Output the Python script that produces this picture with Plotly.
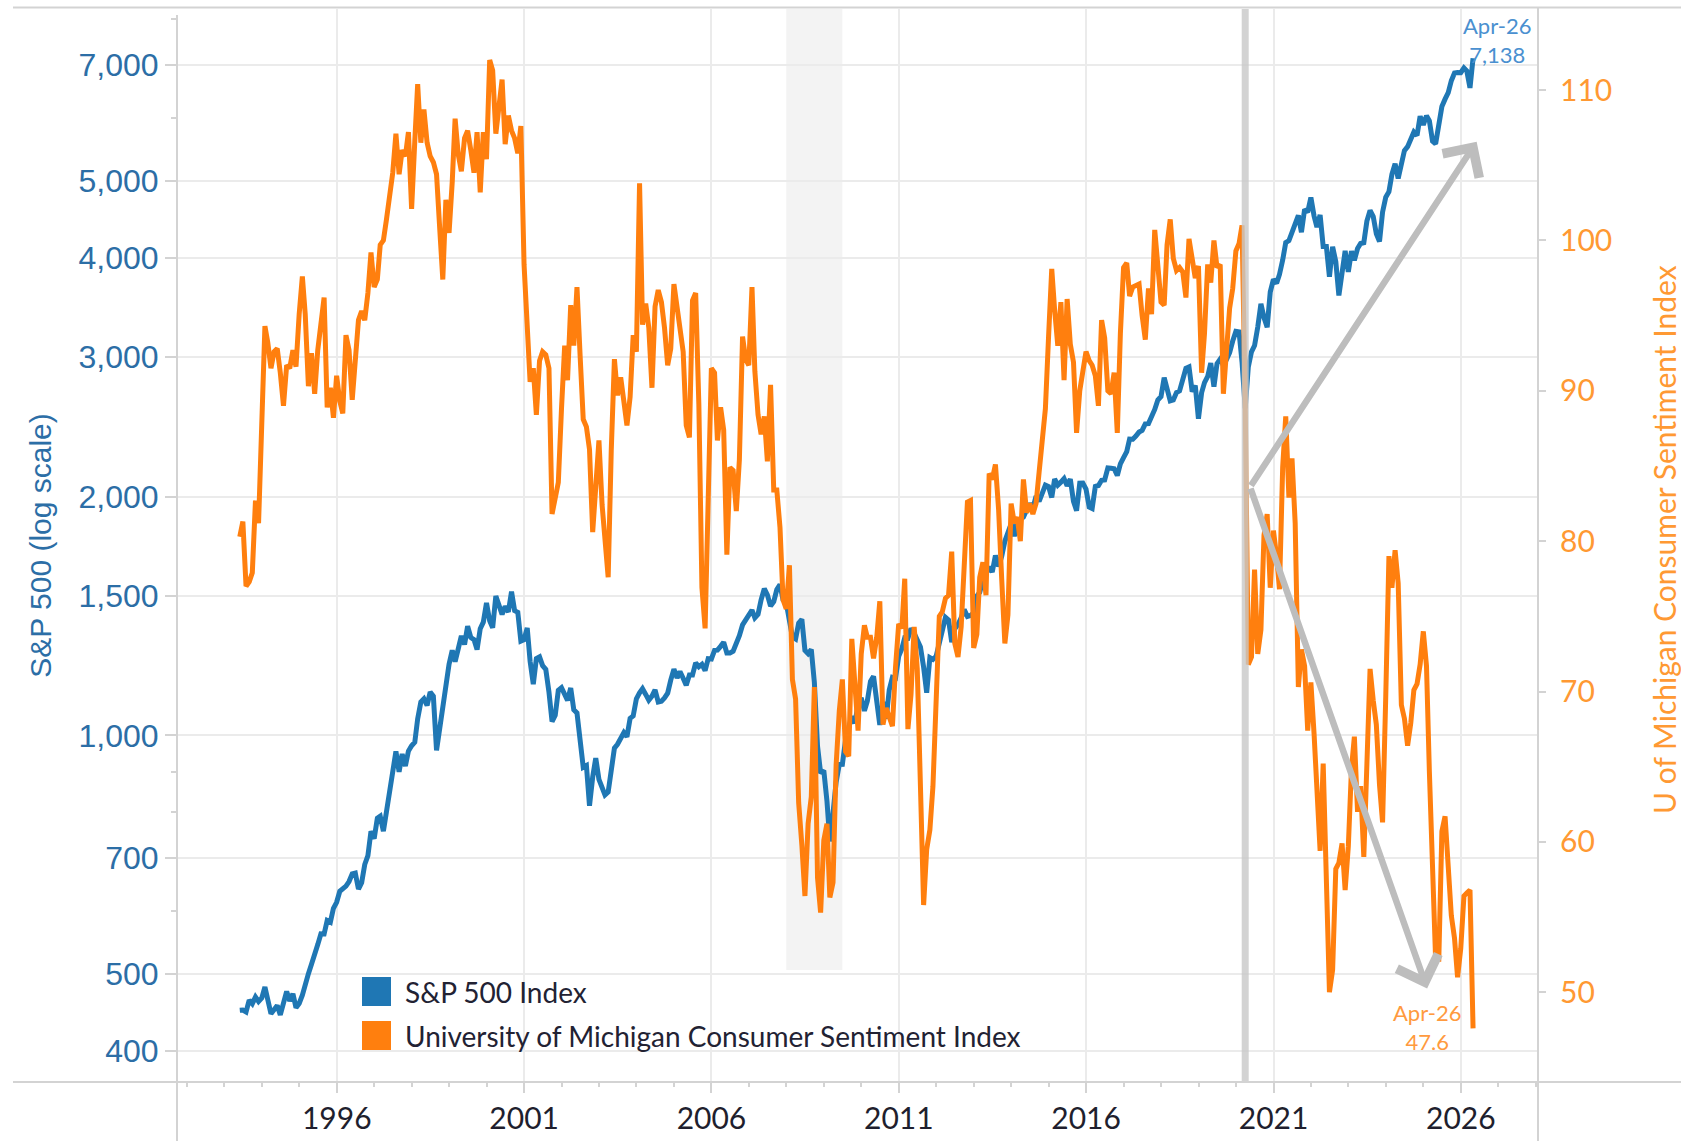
import calendar
import plotly.graph_objects as go

# ---------------- data (monthly, month-end, May 1993 -> Apr 2026) ----------------
START_YEAR, START_MONTH = 1993, 5

sp500 = [
    450.19, 450.53, 448.13, 463.56, 458.93, 467.83, 461.79, 466.45,
    481.61, 467.14, 445.77, 450.91, 456.50, 444.27, 458.26, 475.49, 462.69, 472.35, 453.69, 459.27,
    470.42, 487.39, 500.71, 514.71, 533.40, 544.75, 562.06, 561.88, 584.41, 581.50, 605.37, 615.93,
    636.02, 640.43, 645.50, 654.17, 669.12, 670.63, 639.95, 651.99, 687.31, 705.27, 757.02, 740.74,
    786.16, 790.82, 757.12, 801.34, 848.28, 885.14, 954.29, 899.47, 947.28, 914.62, 955.40, 970.43,
    980.28, 1049.34, 1101.75, 1111.75, 1090.82, 1133.84, 1120.67, 957.28, 1017.01, 1098.67, 1163.63, 1229.23,
    1279.64, 1238.33, 1286.37, 1335.18, 1301.84, 1372.71, 1328.72, 1320.41, 1282.71, 1362.93, 1388.91, 1469.25,
    1394.46, 1366.42, 1498.58, 1452.43, 1420.60, 1454.60, 1430.83, 1517.68, 1436.51, 1429.40, 1314.95, 1320.28,
    1366.01, 1239.94, 1160.33, 1249.46, 1255.82, 1224.42, 1211.23, 1133.58, 1040.94, 1059.78, 1139.45, 1148.08,
    1130.20, 1106.73, 1147.39, 1076.92, 1067.14, 989.82, 911.62, 916.07, 815.28, 885.76, 936.31, 879.82,
    855.70, 841.15, 848.18, 916.92, 963.59, 974.50, 990.31, 1008.01, 995.97, 1050.71, 1058.20, 1111.92,
    1131.13, 1144.94, 1126.21, 1107.30, 1120.68, 1140.84, 1101.72, 1104.24, 1114.58, 1130.20, 1173.82, 1211.92,
    1181.27, 1203.60, 1180.59, 1156.85, 1191.50, 1191.33, 1234.18, 1220.33, 1228.81, 1207.01, 1249.48, 1248.29,
    1280.08, 1280.66, 1294.87, 1310.61, 1270.09, 1270.20, 1276.66, 1303.82, 1335.85, 1377.94, 1400.63, 1418.30,
    1438.24, 1406.82, 1420.86, 1482.37, 1530.62, 1503.35, 1455.27, 1473.99, 1526.75, 1549.38, 1481.14, 1468.36,
    1378.55, 1330.63, 1322.70, 1385.59, 1400.38, 1280.00, 1267.38, 1282.83, 1166.36, 968.75, 896.24, 903.25,
    825.88, 735.09, 797.87, 872.81, 919.14, 919.32, 987.48, 1020.62, 1057.08, 1036.19, 1095.63, 1115.10,
    1073.87, 1104.49, 1169.43, 1186.69, 1089.41, 1030.71, 1101.60, 1049.33, 1141.20, 1183.26, 1180.55, 1257.64,
    1286.12, 1327.22, 1325.83, 1363.61, 1345.20, 1320.64, 1292.28, 1218.89, 1131.42, 1253.30, 1246.96, 1257.60,
    1312.41, 1365.68, 1408.47, 1397.91, 1310.33, 1362.16, 1379.32, 1406.58, 1440.67, 1412.16, 1416.18, 1426.19,
    1498.11, 1514.68, 1569.19, 1597.57, 1630.74, 1606.28, 1685.73, 1632.97, 1681.55, 1756.54, 1805.81, 1848.36,
    1782.59, 1859.45, 1872.34, 1883.95, 1923.57, 1960.23, 1930.67, 2003.37, 1972.29, 2018.05, 2067.56, 2058.90,
    1994.99, 2104.50, 2067.89, 2085.51, 2107.39, 2063.11, 2103.84, 1972.18, 1920.03, 2079.36, 2080.41, 2043.94,
    1940.24, 1932.23, 2059.74, 2065.30, 2096.95, 2098.86, 2173.60, 2170.95, 2168.27, 2126.15, 2198.81, 2238.83,
    2278.87, 2363.64, 2362.72, 2384.20, 2411.80, 2423.41, 2470.30, 2471.65, 2519.36, 2575.26, 2647.58, 2673.61,
    2823.81, 2713.83, 2640.87, 2648.05, 2705.27, 2718.37, 2816.29, 2901.52, 2913.98, 2711.74, 2760.17, 2506.85,
    2704.10, 2784.49, 2834.40, 2945.83, 2752.06, 2941.76, 2980.38, 2926.46, 2976.74, 3037.56, 3140.98, 3230.78,
    3225.52, 2954.22, 2584.59, 2912.43, 3044.31, 3100.29, 3271.12, 3500.31, 3363.00, 3269.96, 3621.63, 3756.07,
    3714.24, 3811.15, 3972.89, 4181.17, 4204.11, 4297.50, 4395.26, 4522.68, 4307.54, 4605.38, 4567.00, 4766.18,
    4515.55, 4373.94, 4530.41, 4131.93, 4132.15, 3785.38, 4130.29, 3955.00, 3585.62, 3871.98, 4080.11, 3839.50,
    4076.60, 3970.15, 4109.31, 4169.48, 4179.83, 4450.38, 4588.96, 4507.66, 4288.05, 4193.80, 4567.80, 4769.83,
    4845.65, 5096.27, 5254.35, 5035.69, 5277.51, 5460.48, 5522.30, 5648.40, 5762.48, 5705.45, 6032.38, 5881.63,
    6040.53, 5954.50, 5611.85, 5569.06, 5911.69, 6204.95, 6339.39, 6460.26, 6688.46, 6840.20, 6849.09, 6845.50,
    6939.03, 6880.00, 6550.00, 7138.00,
]

umich = [
    80.3, 81.3, 77.0, 77.3, 77.9, 82.7, 81.2, 88.2,
    94.3, 93.2, 91.5, 92.6, 92.8, 91.2, 89.0, 91.7, 91.5, 92.7, 91.6, 95.1,
    97.6, 95.1, 90.3, 92.5, 89.8, 92.7, 94.4, 96.2, 88.9, 90.2, 88.2, 91.0,
    89.3, 88.5, 93.7, 92.7, 89.4, 92.4, 94.7, 95.3, 94.7, 96.5, 99.2, 96.9,
    97.4, 99.7, 100.0, 101.4, 103.2, 104.5, 107.1, 104.4, 106.0, 105.6, 107.2, 102.1,
    106.6, 110.4, 106.5, 108.7, 106.5, 105.6, 105.2, 104.4, 100.9, 97.4, 102.7, 100.5,
    103.9, 108.1, 105.7, 104.6, 106.8, 107.3, 106.0, 104.5, 107.2, 103.2, 107.2, 105.4,
    112.0, 111.3, 107.1, 109.2, 110.7, 106.4, 108.3, 107.3, 106.8, 105.8, 107.6, 98.4,
    94.7, 90.6, 91.5, 88.4, 92.0, 92.6, 92.4, 91.5, 81.8, 82.7, 83.9, 88.8,
    93.0, 90.7, 95.7, 93.0, 96.9, 92.4, 88.1, 87.6, 86.1, 80.6, 84.2, 86.7,
    82.4, 79.9, 77.6, 86.0, 92.1, 89.7, 90.9, 89.3, 87.7, 89.6, 93.7, 92.6,
    103.8, 94.4, 95.8, 94.2, 90.2, 95.6, 96.7, 95.9, 94.2, 91.7, 92.8, 97.1,
    95.5, 94.1, 92.6, 87.7, 86.9, 96.0, 96.5, 89.1, 76.9, 74.2, 81.6, 91.5,
    91.2, 86.7, 88.9, 87.4, 79.1, 84.9, 84.7, 82.0, 85.4, 93.6, 92.1, 91.7,
    96.9, 91.3, 88.4, 87.1, 88.3, 85.3, 90.4, 83.4, 83.4, 80.9, 76.1, 75.5,
    78.4, 70.8, 69.5, 62.6, 59.8, 56.4, 61.2, 63.0, 70.3, 57.6, 55.3, 60.1,
    61.2, 56.3, 57.3, 65.1, 68.7, 70.8, 66.0, 65.7, 73.5, 70.6, 67.4, 72.5,
    74.4, 73.6, 73.6, 72.2, 73.6, 76.0, 67.8, 68.9, 68.2, 67.7, 71.6, 74.5,
    74.2, 77.5, 67.5, 69.8, 74.3, 71.5, 63.7, 55.8, 59.5, 60.8, 63.7, 69.9,
    75.0, 75.3, 76.2, 76.4, 79.3, 73.2, 72.3, 74.3, 78.3, 82.6, 82.7, 72.9,
    73.8, 77.6, 78.6, 76.4, 84.5, 84.1, 85.1, 82.1, 77.5, 73.2, 75.1, 82.5,
    81.2, 81.6, 80.0, 84.1, 81.9, 82.5, 81.8, 82.5, 84.6, 86.9, 88.8, 93.6,
    98.1, 95.4, 93.0, 95.9, 90.7, 96.1, 93.1, 91.9, 87.2, 90.0, 91.3, 92.6,
    92.0, 91.7, 91.0, 89.0, 94.7, 93.5, 90.0, 89.8, 91.2, 87.2, 93.8, 98.2,
    98.5, 96.3, 96.9, 97.0, 97.1, 95.0, 93.4, 96.8, 95.1, 100.7, 98.5, 95.9,
    95.7, 99.7, 101.4, 98.8, 98.0, 98.2, 97.9, 96.2, 100.1, 98.6, 97.5, 98.3,
    91.2, 93.8, 98.4, 97.2, 100.0, 98.2, 98.4, 89.8, 93.2, 95.5, 96.8, 99.3,
    99.8, 101.0, 89.1, 71.8, 72.3, 78.1, 72.5, 74.1, 80.4, 81.8, 76.9, 80.7,
    79.0, 76.8, 84.9, 88.3, 82.9, 85.5, 81.2, 70.3, 72.8, 71.7, 67.4, 70.6,
    67.2, 62.8, 59.4, 65.2, 58.4, 50.0, 51.5, 58.2, 58.6, 59.9, 56.8, 59.7,
    64.9, 67.0, 62.0, 63.7, 59.0, 64.4, 71.5, 69.4, 67.8, 63.8, 61.3, 69.7,
    79.0, 76.9, 79.4, 77.2, 69.1, 68.2, 66.4, 67.9, 70.1, 70.5, 71.8, 74.0,
    71.7, 64.7, 57.0, 52.2, 52.2, 60.7, 61.7, 58.2, 55.1, 53.6, 51.0, 52.9,
    56.4, 56.6, 56.8, 47.6,
]

left_ticks = [400, 500, 700, 1000, 1500, 2000, 3000, 4000, 5000, 7000]
left_minor = [600, 800, 900, 6000, 8000]
right_ticks = [50, 60, 70, 80, 90, 100, 110]
last_label = "Apr-26"

# month-end dates
dates = []
yy, mm = START_YEAR, START_MONTH
for _ in range(len(sp500)):
    dates.append(f"{yy:04d}-{mm:02d}-{calendar.monthrange(yy, mm)[1]:02d}")
    mm += 1
    if mm > 12:
        mm, yy = 1, yy + 1

# ---------------- layout geometry ----------------
W, H = 1681, 1141
L, R, T, B = 177, 1538, 9, 1082
PW, PH = R - L, B - T


def xp(px):
    return (px - L) / PW


def yp(py):
    return (B - py) / PH


BLUE = "#1f77b4"
ORANGE = "#ff7f0e"
BLUE_TXT = "#2c6ea6"
ORANGE_TXT = "#ff9933"
FRAME = "#d3d3d3"
GRID = "#ebebeb"

fig = go.Figure()
fig.add_trace(go.Scatter(x=dates, y=sp500, name="S&P 500 Index", mode="lines",
                         line=dict(color=BLUE, width=5), yaxis="y", showlegend=False))
fig.add_trace(go.Scatter(x=dates, y=umich, name="University of Michigan Consumer Sentiment Index",
                         mode="lines", line=dict(color=ORANGE, width=5), yaxis="y2",
                         showlegend=False))

shapes = [
    # recession shading
    dict(type="rect", xref="x", yref="paper", x0="2007-12-31", x1="2009-06-30", y0=0, y1=1,
         fillcolor="#f3f3f3", line=dict(width=0), layer="below"),
    # legend background
    dict(type="rect", xref="paper", yref="paper", x0=xp(357), x1=xp(1173), y0=0, y1=yp(970),
         fillcolor="white", line=dict(width=0), layer="between"),
    # covid line
    dict(type="line", xref="x", yref="paper", x0="2020-03-31", x1="2020-03-31", y0=0, y1=1,
         line=dict(color="rgba(200,200,200,0.8)", width=7), layer="above"),
    # frame
    dict(type="line", xref="paper", yref="paper", x0=xp(13), x1=xp(W), y0=yp(7.5), y1=yp(7.5),
         line=dict(color=FRAME, width=2), layer="above"),
    dict(type="line", xref="paper", yref="paper", x0=xp(13), x1=xp(W), y0=0, y1=0,
         line=dict(color=FRAME, width=2), layer="above"),
    dict(type="line", xref="paper", yref="paper", x0=0, x1=0, y0=yp(15), y1=yp(H),
         line=dict(color=FRAME, width=2), layer="above"),
    dict(type="line", xref="paper", yref="paper", x0=1, x1=1, y0=yp(7.5), y1=yp(H),
         line=dict(color=FRAME, width=2), layer="above"),
    # legend swatches
    dict(type="rect", xref="paper", yref="paper", x0=xp(362), x1=xp(391), y0=yp(1006), y1=yp(977),
         fillcolor=BLUE, line=dict(width=0), layer="above"),
    dict(type="rect", xref="paper", yref="paper", x0=xp(362), x1=xp(391), y0=yp(1050), y1=yp(1021),
         fillcolor=ORANGE, line=dict(width=0), layer="above"),
]

annotations = [
    dict(xref="paper", yref="paper", x=xp(403), y=yp(992), xanchor="left", yanchor="middle",
         text="S&P 500 Index", showarrow=False, font=dict(family="Lato", size=28, color="#222233")),
    dict(xref="paper", yref="paper", x=xp(403), y=yp(1036), xanchor="left", yanchor="middle",
         text="University of Michigan Consumer Sentiment Index", showarrow=False,
         font=dict(family="Lato", size=28, color="#222233")),
    dict(xref="paper", yref="paper", x=xp(1497), y=yp(40), xanchor="center", yanchor="middle",
         text=f"{last_label}<br>{sp500[-1]:,.0f}", showarrow=False,
         font=dict(family="Lato", size=22, color="#4a90d0")),
    dict(xref="paper", yref="paper", x=xp(1427), y=yp(1027), xanchor="center", yanchor="middle",
         text=f"{last_label}<br>{umich[-1]}", showarrow=False,
         font=dict(family="Lato", size=22, color="#ff9a3e")),
    # right axis title, pushed to the right edge as in the original
    dict(xref="paper", yref="paper", x=xp(1664), y=yp(540), xanchor="center", yanchor="middle",
         text="U of Michigan Consumer Sentiment Index", textangle=-90, showarrow=False,
         font=dict(family="Lato", size=30, color=ORANGE_TXT)),
    # trend arrows
    dict(xref="x", yref="y2", axref="x", ayref="y2", x="2026-06-04", y=106.56,
         ax="2020-05-17", ay=83.6, text="", showarrow=True, arrowhead=4, arrowsize=1.3,
         arrowwidth=6.5, arrowcolor="#bdbdbd", standoff=0),
    dict(xref="x", yref="y2", axref="x", ayref="y2", x="2025-02-06", y=50.25,
         ax="2020-05-17", ay=83.6, text="", showarrow=True, arrowhead=4, arrowsize=1.3,
         arrowwidth=6.5, arrowcolor="#bdbdbd", standoff=0),
]

fig.update_layout(
    width=W, height=H, autosize=False,
    margin=dict(l=L, r=W - R, t=T, b=H - B, pad=0),
    paper_bgcolor="white", plot_bgcolor="white",
    font=dict(family="Lato", color="#222233"),
    showlegend=False, hovermode=False,
    shapes=shapes, annotations=annotations,
    xaxis=dict(
        type="date", range=["1991-09-27", "2028-01-23"],
        tick0="1996-01-01", dtick="M60", tickformat="%Y",
        ticks="outside", ticklen=10, tickwidth=1.5, tickcolor=FRAME,
        minor=dict(dtick="M12", ticklen=4, tickcolor=FRAME, tickwidth=1.5, showgrid=False),
        showgrid=True, gridcolor=GRID, gridwidth=1.5, zeroline=False, showline=False,
        tickfont=dict(family="Lato", size=30, color="#1f1f2e"), ticklabelstandoff=0,
        automargin=False,
    ),
    yaxis=dict(
        type="log", range=[2.5630, 3.9157],
        tickmode="array", tickvals=left_ticks, ticktext=[f"{v:,}" for v in left_ticks],
        ticks="outside", ticklen=11, tickwidth=1.5, tickcolor=FRAME,
        minor=dict(tickmode="array", tickvals=left_minor, ticklen=5, tickcolor=FRAME,
                   tickwidth=1.5, showgrid=False),
        showgrid=True, gridcolor=GRID, gridwidth=1.5, zeroline=False, showline=False,
        tickfont=dict(family="Liberation Sans, Arial", size=32, color=BLUE_TXT),
        ticklabelstandoff=0,
        title=dict(text="S&P 500 (log scale)", standoff=18,
                   font=dict(family="Liberation Sans, Arial", size=30, color=BLUE_TXT)),
        automargin=False,
    ),
    yaxis2=dict(
        overlaying="y", side="right", range=[44.03, 115.39],
        tickmode="array", tickvals=right_ticks,
        ticks="outside", ticklen=7, tickwidth=1.5, tickcolor=FRAME,
        showgrid=False, zeroline=False, showline=False,
        tickfont=dict(family="Lato", size=30, color=ORANGE_TXT),
        ticklabelstandoff=8,
        automargin=False,
    ),
)

fig.write_html("out.html", config={"displayModeBar": False},
               post_script="document.body.style.margin='0';document.body.style.overflow='hidden';")
